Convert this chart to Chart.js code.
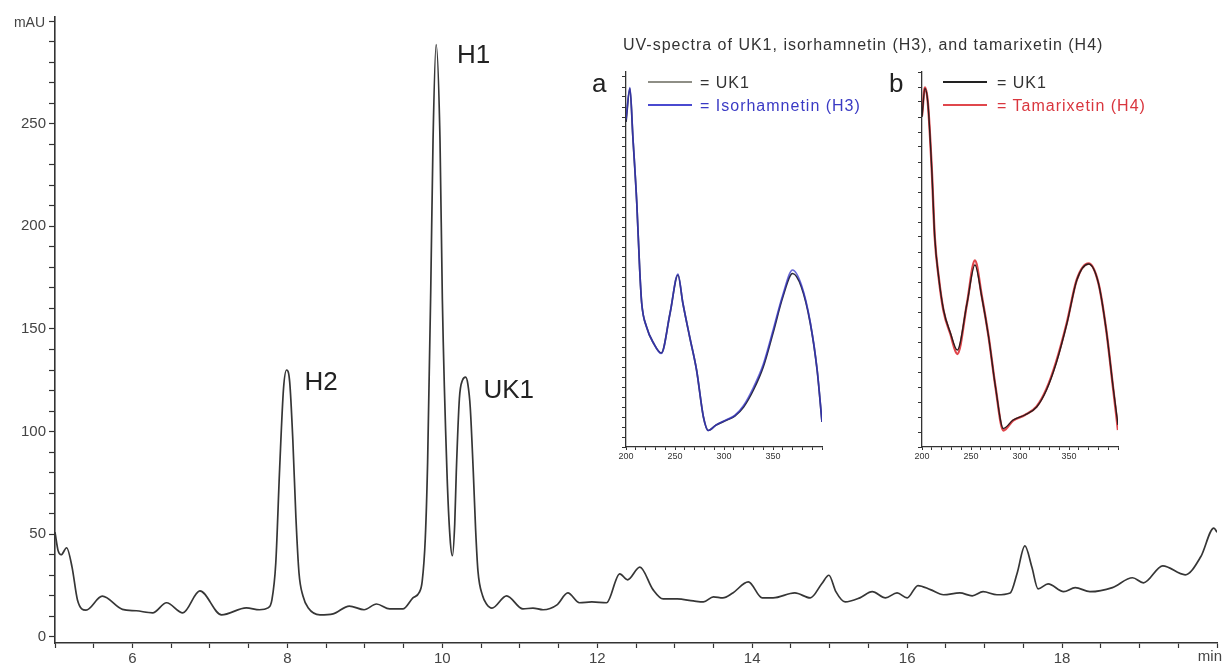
<!DOCTYPE html>
<html>
<head>
<meta charset="utf-8">
<script src="https://cdn.jsdelivr.net/npm/chart.js@4.4.1/dist/chart.umd.min.js"></script>
<style>
  body { margin: 0; background: #fff; font-family: "Liberation Sans", Arial, sans-serif; }
  #wrap { position: relative; width: 1223px; height: 664px; overflow: hidden; }
  canvas { position: absolute; }
  .txt { position: absolute; white-space: nowrap; font-size: 16px; line-height: 16px; letter-spacing: 1px; color: #333; }
  .swatch { position: absolute; width: 44px; height: 0; }
  .tag { position: absolute; font-size: 26px; line-height: 26px; color: #222; }
</style>
</head>
<body>
<div id="wrap">
  <canvas id="main" width="1223" height="664" style="left:0;top:0"></canvas>
  <canvas id="insetA" width="244" height="410" style="left:598px;top:60px"></canvas>
  <canvas id="insetB" width="244" height="410" style="left:894px;top:60px"></canvas>

  <div class="txt" style="left:623px;top:37px">UV-spectra of UK1, isorhamnetin (H3), and tamarixetin (H4)</div>

  <div class="tag" style="left:592px;top:70px">a</div>
  <div class="swatch" style="left:648px;top:81px;border-top:2px solid #8e8e86"></div>
  <div class="txt" style="left:700px;top:75px">= UK1</div>
  <div class="swatch" style="left:648px;top:104px;border-top:2px solid #4a4ad0"></div>
  <div class="txt" style="left:700px;top:98px;color:#3a3ac4">= Isorhamnetin (H3)</div>

  <div class="tag" style="left:889px;top:70px">b</div>
  <div class="swatch" style="left:943px;top:81px;border-top:2px solid #222"></div>
  <div class="txt" style="left:997px;top:75px">= UK1</div>
  <div class="swatch" style="left:943px;top:104px;border-top:2px solid #e0474c"></div>
  <div class="txt" style="left:997px;top:98px;color:#d9363e">= Tamarixetin (H4)</div>
</div>

<script>
// chromatogram (retention time in min, signal in mAU)
var retTime = [5.00, 5.04, 5.08, 5.15, 5.22, 5.29, 5.40, 5.61, 5.87, 6.05, 6.26, 6.44, 6.65, 6.87, 7.15, 7.47, 7.64, 7.75,
  7.80, 7.85, 7.90, 7.95, 7.99, 8.03, 8.07, 8.11, 8.15, 8.20, 8.27, 8.42, 8.59, 8.80, 8.99, 9.15, 9.32, 9.49, 9.62, 9.70,
  9.74, 9.78, 9.81, 9.85, 9.88, 9.92, 9.97, 10.00, 10.06, 10.10, 10.13, 10.16, 10.18, 10.22, 10.26, 10.30, 10.33, 10.36,
  10.40, 10.43, 10.46, 10.52, 10.57, 10.64, 10.83, 11.04, 11.17, 11.30, 11.48, 11.62, 11.77, 11.93, 12.12, 12.29, 12.39,
  12.55, 12.72, 12.85, 13.03, 13.24, 13.37, 13.50, 13.62, 13.75, 13.95, 14.13, 14.27, 14.55, 14.75, 14.90, 14.99, 15.08,
  15.20, 15.39, 15.55, 15.72, 15.87, 16.00, 16.14, 16.30, 16.47, 16.68, 16.84, 16.98, 17.16, 17.33, 17.42, 17.52, 17.61,
  17.69, 17.82, 18.02, 18.17, 18.36, 18.65, 18.91, 19.05, 19.30, 19.59, 19.79, 19.96, 20.00];
var signal = [51, 42, 40, 43.4, 34, 18, 13, 19.8, 13.4, 12.7, 11.7, 16.6, 11.7, 22.4, 10.7, 14.1, 13.2, 14.1,
  18, 36, 82, 121, 130, 124, 96, 58, 31, 20, 14, 10.7, 11.2, 15, 13.2, 16, 13.6, 13.6, 19, 21.5,
  27, 48, 85, 168, 242, 288.5, 242, 165, 80, 48, 39.5, 55, 80, 116, 125, 126.5, 123, 112,
  80, 52, 32, 20, 16, 14, 20, 13.6, 14, 13.2, 15.6, 21.4, 16.6, 17, 16.6, 30.7, 27.8,
  34, 23, 18.5, 18.5, 17.5, 17, 19.5, 19, 21.4, 26.8, 19, 19, 21.4, 19, 26, 30, 22,
  17, 19, 22, 19, 21.4, 19, 25, 23, 20.5, 21.4, 20, 22, 20.5, 21.4, 31, 44.3, 34,
  23.4, 25.8, 22, 24, 22, 24, 28.8, 26.3, 34.6, 30.2, 39, 53, 51];

var peakNames = ['H2', 'H1', 'UK1'];
var peakLabelTime = [8.22, 10.19, 10.53];
var peakLabelSignal = [124, 283, 120];

// UV spectra, inset a
var wavelengthA = [200, 204, 207, 211, 214, 216, 221, 228, 236, 245, 253, 258, 265, 272, 279, 284, 292, 303, 311, 320,
  330, 340, 350, 360, 370, 379, 388, 395, 400];
var uk1A = [65, 71.7, 62, 48.8, 35.4, 28.8, 24, 20.8, 18.8, 26.8, 34.4, 28.8, 22, 15.4, 6, 3.3, 4.4, 5.4, 6.2, 8,
  11.4, 16, 22.8, 30, 34.7, 32, 24.8, 15.4, 5];
var isorhamnetin = [65.5, 71.9, 62.2, 48.8, 35.4, 28.8, 24, 20.8, 18.7, 26.8, 34.6, 28.8, 22, 15.4, 6, 3.3, 4.4, 5.5, 6.3, 8.3,
  11.9, 16.5, 23.3, 30.4, 35.4, 32.4, 25, 15.6, 5];

// UV spectra, inset b
var wavelengthB = [200, 203, 206, 210, 213, 217, 222, 229, 236, 246, 254, 261, 268, 275, 283, 293, 305, 317, 327, 337,
  348, 358, 370, 380, 388, 395, 400];
var uk1B = [66, 71.7, 68.8, 55.4, 42, 34, 27.4, 22.8, 19.4, 28.8, 36.4, 30, 22, 12, 3.7, 5.4, 6.4, 8, 11.4, 16.8,
  24.8, 33.4, 36.6, 32.8, 23.4, 12, 4.4];
var tamarixetin = [66.3, 71.9, 68.8, 55.4, 42, 34, 27.2, 22.6, 18.6, 28.8, 37.3, 30.2, 22, 12, 3.3, 5.3, 6.4, 8.1, 11.6, 17.1,
  25, 33.5, 36.7, 32.8, 23.4, 11.8, 3.4];

Chart.defaults.font.family = '"Liberation Sans", Arial, sans-serif';
Chart.defaults.animation = false;

function pts(xs, ys) {
  return xs.map((v, i) => ({x: v, y: ys[i]}));
}

var mainLabels = {
  id: 'mainLabels',
  afterDraw(chart) {
    const ctx = chart.ctx, x = chart.scales.x, y = chart.scales.y;
    ctx.save();
    ctx.fillStyle = '#222';
    ctx.font = '26px "Liberation Sans", Arial, sans-serif';
    ctx.textBaseline = 'middle';
    peakNames.forEach((n, i) => {
      ctx.fillText(n, x.getPixelForValue(peakLabelTime[i]), y.getPixelForValue(peakLabelSignal[i]));
    });
    ctx.fillStyle = '#444';
    ctx.font = '14px "Liberation Sans", Arial, sans-serif';
    ctx.textAlign = 'right';
    ctx.fillText('mAU', x.left - 10, y.top + 6);
    ctx.font = '15px "Liberation Sans", Arial, sans-serif';
    ctx.fillText('min', x.right + 5, y.bottom + 14);
    ctx.restore();
  }
};

new Chart(document.getElementById('main'), {
  type: 'line',
  data: {
    datasets: [{
      data: pts(retTime, signal),
      borderColor: '#363636',
      borderWidth: 1.7,
      pointRadius: 0,
      cubicInterpolationMode: 'monotone',
      fill: false
    }]
  },
  options: {
    responsive: false,
    layout: {padding: {top: 17, right: 6, left: 0, bottom: 0}},
    plugins: {legend: {display: false}, tooltip: {enabled: false}},
    scales: {
      x: {
        type: 'linear', min: 5, max: 20,
        afterFit(s) { s.height = 21; },
        border: {color: '#333', width: 1.6},
        grid: {drawOnChartArea: false, tickLength: 5, color: '#333', tickWidth: 1.2},
        ticks: {
          stepSize: 0.5, autoSkip: false, maxRotation: 0, padding: 2,
          color: '#444', font: {size: 15},
          callback: v => (v % 2 === 0 && v < 20) ? v : ''
        }
      },
      y: {
        min: -3, max: 302,
        afterFit(s) { s.width = 55; },
        border: {color: '#333', width: 1.6},
        grid: {drawOnChartArea: false, tickLength: 6, color: '#333', tickWidth: 1.2},
        ticks: {
          stepSize: 10, autoSkip: false, includeBounds: false, padding: 3,
          color: '#444', font: {size: 15},
          callback: v => (v % 50 === 0 && v < 300) ? v : ''
        }
      }
    }
  },
  plugins: [mainLabels]
});

function insetOptions(yStep) {
  return {
    responsive: false,
    layout: {padding: {top: 12, right: 20, left: 0, bottom: 0}},
    plugins: {legend: {display: false}, tooltip: {enabled: false}},
    scales: {
      x: {
        type: 'linear', min: 200, max: 400,
        afterFit(s) { s.height = 23; },
        border: {color: '#333', width: 1.3},
        grid: {drawOnChartArea: false, tickLength: 3, color: '#333'},
        ticks: {
          stepSize: 10, autoSkip: false, maxRotation: 0, padding: 1,
          color: '#333', font: {size: 9},
          callback: v => (v % 50 === 0 && v < 400) ? v : ''
        }
      },
      y: {
        min: 0, max: 75,
        afterFit(s) { s.width = 28; },
        border: {color: '#333', width: 1.3},
        grid: {drawOnChartArea: false, tickLength: 4, color: '#333'},
        ticks: {stepSize: yStep, autoSkip: false, includeBounds: false, callback: () => ''}
      }
    }
  };
}

new Chart(document.getElementById('insetA'), {
  type: 'line',
  data: {
    datasets: [{
      data: pts(wavelengthA, isorhamnetin),
      borderColor: 'rgba(55,55,200,0.75)', borderWidth: 1.7, pointRadius: 0,
      cubicInterpolationMode: 'monotone', order: 0
    }, {
      data: pts(wavelengthA, uk1A),
      borderColor: '#2b2b3a', borderWidth: 1.7, pointRadius: 0,
      cubicInterpolationMode: 'monotone', order: 1
    }]
  },
  options: insetOptions(2)
});

new Chart(document.getElementById('insetB'), {
  type: 'line',
  data: {
    datasets: [{
      data: pts(wavelengthB, uk1B),
      borderColor: '#2a1c1c', borderWidth: 1.4, pointRadius: 0,
      cubicInterpolationMode: 'monotone', order: 0
    }, {
      data: pts(wavelengthB, tamarixetin),
      borderColor: '#e0474c', borderWidth: 2.4, pointRadius: 0,
      cubicInterpolationMode: 'monotone', order: 1
    }]
  },
  options: insetOptions(3)
});
</script>
</body>
</html>
